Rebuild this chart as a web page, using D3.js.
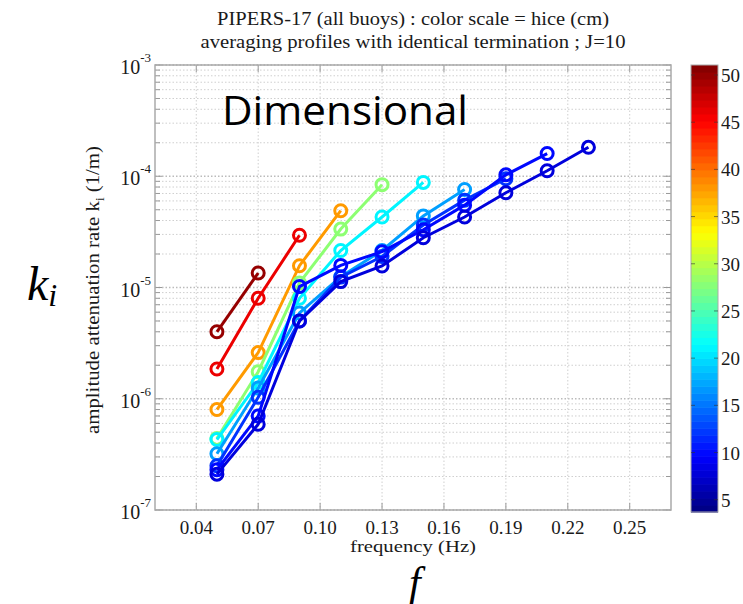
<!DOCTYPE html>
<html><head><meta charset="utf-8">
<script src="https://cdn.jsdelivr.net/npm/d3@7"></script>
<style>body{margin:0;background:#fff}svg{display:block}</style>
</head><body>
<svg id="c" width="743" height="604"></svg>
<script>
// ---- data ----
const freqs = [0.05,0.07,0.09,0.11,0.13,0.15,0.17,0.19,0.21,0.23];
const hice = [50, 46, 38, 28, 21, 17, 12, 10, 8];
const s1 = [4.0e-6, 1.35e-5];
const s2 = [1.85e-6, 8.0e-6, 2.95e-5];
const s3 = [8.0e-7, 2.6e-6, 1.57e-5, 4.9e-5];
const s4 = [4.4e-7, 1.75e-6, 1.1e-5, 3.35e-5, 8.4e-5];
const s5 = [4.3e-7, 1.4e-6, 8.0e-6, 2.15e-5, 4.3e-5, 8.8e-5];
const s6 = [3.2e-7, 1.25e-6, 5.9e-6, 1.25e-5, 2.15e-5, 4.4e-5, 7.6e-5];
const s7 = [2.5e-7, 1.03e-6, 5.0e-6, 1.24e-5, 1.9e-5, 3.65e-5, 6.1e-5, 9.5e-5];
const s8 = [2.3e-7, 7.0e-7, 1.02e-5, 1.58e-5, 2.1e-5, 3.3e-5, 5.5e-5, 1.03e-4, 1.6e-4];
const s9 = [2.1e-7, 5.9e-7, 5.0e-6, 1.13e-5, 1.56e-5, 2.8e-5, 4.3e-5, 7.1e-5, 1.12e-4, 1.82e-4];
const seriesVals = [s1,s2,s3,s4,s5,s6,s7,s8,s9];
const xTicks = [0.04,0.07,0.10,0.13,0.16,0.19,0.22,0.25];
const yDecades = [-7,-6,-5,-4,-3];
const cbTicks = [5,10,15,20,25,30,35,40,45,50];
const titleLines = ["PIPERS-17 (all buoys) : color scale = hice (cm)", "averaging profiles with identical termination ; J=10"];

// ---- layout ----
const L=155, R=671, T=65, B=510;
const svg = d3.select("#c");
const x = d3.scaleLinear().domain([0.02,0.27]).range([L,R]);
const y = d3.scaleLog().domain([1e-7,1e-3]).range([B,T]);
const cbDom = [3.7, 51.06];
const cbY = d3.scaleLinear().domain(cbDom).range([512,65]);
function jet(v){
  const t = (v-cbDom[0])/(cbDom[1]-cbDom[0]);
  const c = a=>Math.max(0,Math.min(1,a));
  const r=c(1.5-Math.abs(4*t-3)), g=c(1.5-Math.abs(4*t-2)), b=c(1.5-Math.abs(4*t-1));
  return d3.rgb(r*255,g*255,b*255).toString();
}
const serif = "'Liberation Serif','DejaVu Serif',serif";
const txt = "#1a1a1a";

// grid
const minor = [];
for (let d=-7; d<-3; d++) for (let m=1; m<10; m++) minor.push(m*Math.pow(10,d));
minor.push(1e-3);
const isDec = d => Math.abs(Math.log10(d) - Math.round(Math.log10(d))) < 1e-9;
const g = svg.append("g");
g.selectAll("line.hy").data(minor).join("line")
  .attr("x1",L).attr("x2",R).attr("y1",d=>y(d)).attr("y2",d=>y(d))
  .attr("stroke",d=>isDec(d)?"#bbb":"#cfcfcf").attr("stroke-width",d=>isDec(d)?1.3:1).attr("stroke-dasharray","1.5,2");
g.selectAll("line.vx").data(xTicks).join("line")
  .attr("y1",T).attr("y2",B).attr("x1",d=>x(d)).attr("x2",d=>x(d))
  .attr("stroke","#cfcfcf").attr("stroke-width",1).attr("stroke-dasharray","1.5,2");
// tick marks
g.selectAll("line.tl").data(minor).join("line")
  .attr("x1",L).attr("x2",d=>L+(isDec(d)?7:5)).attr("y1",d=>y(d)).attr("y2",d=>y(d))
  .attr("stroke","#999");
g.selectAll("line.tr").data(minor).join("line")
  .attr("x1",R).attr("x2",d=>R-(isDec(d)?7:5)).attr("y1",d=>y(d)).attr("y2",d=>y(d))
  .attr("stroke","#999");
g.selectAll("line.tb").data(xTicks).join("line")
  .attr("x1",d=>x(d)).attr("x2",d=>x(d)).attr("y1",B).attr("y2",B-7).attr("stroke","#999");
g.selectAll("line.tt").data(xTicks).join("line")
  .attr("x1",d=>x(d)).attr("x2",d=>x(d)).attr("y1",T).attr("y2",T+7).attr("stroke","#999");
svg.append("rect").attr("x",L).attr("y",T).attr("width",R-L).attr("height",B-T)
  .attr("fill","none").attr("stroke","#aaa").attr("stroke-width",1.5);

// tick labels
svg.selectAll("text.xl").data(xTicks).join("text")
  .attr("x",d=>x(d)).attr("y",B+24).attr("text-anchor","middle")
  .attr("font-family",serif).attr("font-size",19).attr("fill",txt)
  .text(d=>d.toFixed(2));
const yl = svg.selectAll("text.yl").data(yDecades).join("text")
  .attr("x",L-4).attr("y",d=>y(Math.pow(10,d))+9).attr("text-anchor","end")
  .attr("font-family",serif).attr("font-size",20).attr("fill",txt);
yl.append("tspan").text("10");
yl.append("tspan").attr("dy",-12).attr("font-size",13).text(d=>d);

// title
svg.selectAll("text.tt").data(titleLines).join("text")
  .attr("x",413).attr("y",(d,i)=>25+i*23).attr("text-anchor","middle")
  .attr("font-family",serif).attr("font-size",19).attr("fill",txt)
  .attr("textLength",(d,i)=>i===0?392:425).attr("lengthAdjust","spacingAndGlyphs").text(d=>d);

// axis labels
svg.append("text").attr("x",413).attr("y",552).attr("text-anchor","middle")
  .attr("font-family",serif).attr("font-size",17).attr("fill",txt)
  .attr("textLength",126).attr("lengthAdjust","spacingAndGlyphs").text("frequency (Hz)");
const ylab = svg.append("text").attr("transform","translate(99,290) rotate(-90)").attr("text-anchor","middle")
  .attr("font-family",serif).attr("font-size",19).attr("fill",txt)
  .attr("textLength",288).attr("lengthAdjust","spacingAndGlyphs");
ylab.append("tspan").text("amplitude attenuation rate k");
ylab.append("tspan").attr("dy",5).attr("font-size",12).text("i");
ylab.append("tspan").attr("dy",-5).text(" (1/m)");

// big annotations
svg.append("text").attr("x",222).attr("y",125).attr("font-family","'Open Sans','Liberation Sans',sans-serif")
  .attr("font-size",40).attr("textLength",246).attr("lengthAdjust","spacingAndGlyphs").attr("fill","#000").text("Dimensional");
const ki = svg.append("text").attr("x",27).attr("y",300).attr("font-family",serif).attr("font-style","italic")
  .attr("font-size",48).attr("fill","#000");
ki.append("tspan").text("k");
ki.append("tspan").attr("font-size",32).attr("dy",6).text("i");
svg.append("text").attr("x",409).attr("y",596).attr("font-family",serif).attr("font-style","italic")
  .attr("font-size",42).attr("fill","#000").text("f");

// series
const plot = svg.append("g");
seriesVals.forEach((vals,i)=>{
  const col = jet(hice[i]);
  const pts = vals.map((v,j)=>[freqs[j],v]);
  plot.append("path").datum(pts)
    .attr("d", d3.line().x(d=>x(d[0])).y(d=>y(d[1])))
    .attr("fill","none").attr("stroke",col).attr("stroke-width",3);
  plot.selectAll(null).data(pts).join("circle")
    .attr("cx",d=>x(d[0])).attr("cy",d=>y(d[1])).attr("r",6)
    .attr("fill","none").attr("stroke",col).attr("stroke-width",3);
});

// colorbar
const cbX=691, cbW=27;
const levels = d3.range(64);
const step = (cbDom[1]-cbDom[0])/64;
svg.selectAll("rect.cb").data(levels).join("rect")
  .attr("x",cbX).attr("width",cbW)
  .attr("y",d=>cbY(cbDom[0]+(d+1)*step)).attr("height",d=>cbY(cbDom[0]+d*step)-cbY(cbDom[0]+(d+1)*step)+0.6)
  .attr("fill",d=>jet(cbDom[0]+(d+0.5)*step));
svg.append("rect").attr("x",cbX).attr("y",65).attr("width",cbW).attr("height",512-65)
  .attr("fill","none").attr("stroke","#aaa");
svg.selectAll("line.cbl").data(cbTicks).join("line")
  .attr("x1",cbX).attr("x2",cbX+4).attr("y1",d=>cbY(d)).attr("y2",d=>cbY(d)).attr("stroke","#333").attr("opacity",0.6);
svg.selectAll("line.cbr").data(cbTicks).join("line")
  .attr("x1",cbX+cbW).attr("x2",cbX+cbW-4).attr("y1",d=>cbY(d)).attr("y2",d=>cbY(d)).attr("stroke","#333").attr("opacity",0.6);
svg.selectAll("text.cbt").data(cbTicks).join("text")
  .attr("x",cbX+cbW+3).attr("y",d=>cbY(d)+7).attr("font-family",serif).attr("font-size",19).attr("fill",txt)
  .text(d=>d);
</script>
</body></html>
